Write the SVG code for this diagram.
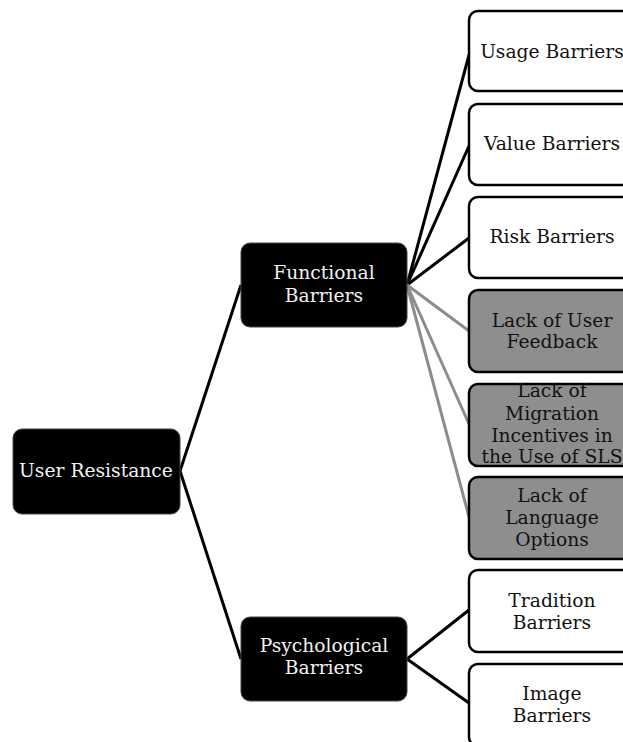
<svg xmlns="http://www.w3.org/2000/svg" width="623" height="742" viewBox="0 0 623 742">
<style>
.dark rect{fill:#000;stroke:#444;stroke-width:1}
.dark text{fill:#f2f2f2}
.light rect{fill:#fff;stroke:#000;stroke-width:2.5}
.gray rect{fill:#8e8e8e;stroke:#000;stroke-width:2.5}
text{font-family:"DejaVu Serif","Liberation Serif",serif;font-size:18.7px;text-anchor:middle;fill:#111}
.c line{stroke-width:3}
.k{stroke:#000}
.g{stroke:#8c8c8c}
</style>
<g class="c" id="connectors">
<line class="k" x1="180" y1="471" x2="241" y2="285"/>
<line class="k" x1="180" y1="471" x2="241" y2="659"/>
<line class="k" x1="407" y1="285" x2="469" y2="55"/>
<line class="k" x1="407" y1="285" x2="469" y2="146"/>
<line class="k" x1="407" y1="285" x2="469" y2="238"/>
<line class="g" x1="407" y1="285" x2="469" y2="331"/>
<line class="g" x1="407" y1="285" x2="469" y2="424"/>
<line class="g" x1="407" y1="285" x2="469" y2="517"/>
<line class="k" x1="407" y1="659" x2="469" y2="610"/>
<line class="k" x1="407" y1="659" x2="469" y2="703"/>
</g>
<g id="user-resistance" class="dark"><rect x="13" y="429" width="167" height="85" rx="9"/><text x="96" y="477">User Resistance</text></g>
<g id="functional" class="dark"><rect x="241" y="243" width="166" height="84" rx="9"/><text x="324" y="279">Functional</text><text x="324" y="302">Barriers</text></g>
<g id="psychological" class="dark"><rect x="241" y="617" width="166" height="84" rx="9"/><text x="324" y="652">Psychological</text><text x="324" y="674">Barriers</text></g>
<g id="usage" class="light"><rect x="469" y="11" width="166" height="80" rx="9"/><text x="552" y="58">Usage Barriers</text></g>
<g id="value" class="light"><rect x="469" y="104" width="166" height="81" rx="9"/><text x="552" y="150">Value Barriers</text></g>
<g id="risk" class="light"><rect x="469" y="197" width="166" height="81" rx="9"/><text x="552" y="243">Risk Barriers</text></g>
<g id="feedback" class="gray"><rect x="469" y="290" width="166" height="82" rx="9"/><text x="552" y="327">Lack of User</text><text x="552" y="348">Feedback</text></g>
<g id="migration" class="gray"><rect x="469" y="384" width="166" height="82" rx="9"/><text x="552" y="397">Lack of</text><text x="552" y="420">Migration</text><text x="552" y="442">Incentives in</text><text x="552" y="463">the Use of SLS</text></g>
<g id="language" class="gray"><rect x="469" y="477" width="166" height="82" rx="9"/><text x="552" y="502">Lack of</text><text x="552" y="524">Language</text><text x="552" y="546">Options</text></g>
<g id="tradition" class="light"><rect x="469" y="570" width="166" height="82" rx="9"/><text x="552" y="607">Tradition</text><text x="552" y="629">Barriers</text></g>
<g id="image" class="light"><rect x="469" y="664" width="166" height="82" rx="9"/><text x="552" y="700">Image</text><text x="552" y="722">Barriers</text></g>
</svg>
